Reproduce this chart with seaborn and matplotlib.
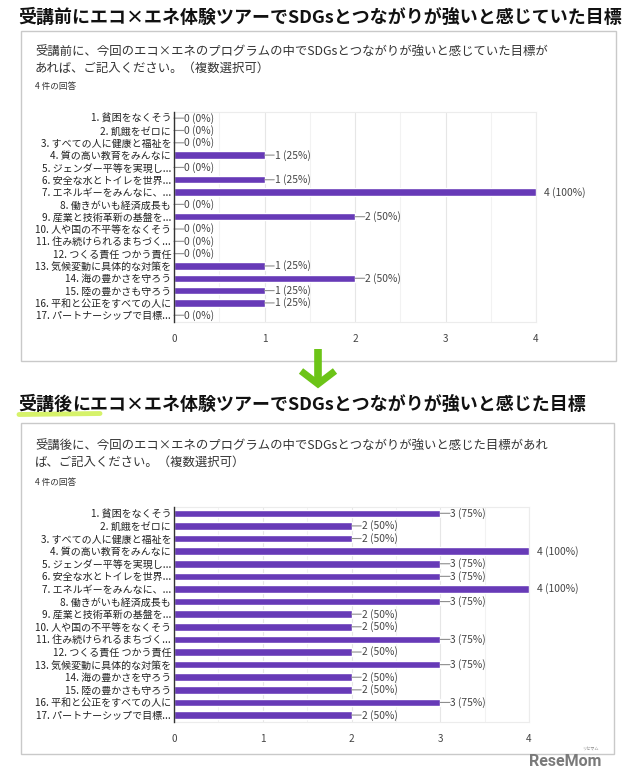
import seaborn as sns
import matplotlib.pyplot as plt
import pandas as pd
from matplotlib.patches import Rectangle
from matplotlib.lines import Line2D

sns.set_style("white")
plt.rcParams['font.family'] = ['Noto Sans CJK JP', 'DejaVu Sans']

# data
goals = [
    "1. 貧困をなくそう", "2. 飢餓をゼロに", "3. すべての人に健康と福祉を",
    "4. 質の高い教育をみんなに", "5. ジェンダー平等を実現し...",
    "6. 安全な水とトイレを世界...", "7. エネルギーをみんなに、...",
    "8. 働きがいも経済成長も", "9. 産業と技術革新の基盤を...",
    "10. 人や国の不平等をなくそう", "11. 住み続けられるまちづく...",
    "12. つくる責任 つかう責任", "13. 気候変動に具体的な対策を",
    "14. 海の豊かさを守ろう", "15. 陸の豊かさも守ろう",
    "16. 平和と公正をすべての人に", "17. パートナーシップで目標...",
]
before = [0, 0, 0, 1, 0, 1, 4, 0, 2, 0, 0, 0, 1, 2, 1, 1, 0]
after = [3, 2, 2, 4, 3, 3, 4, 3, 2, 2, 3, 2, 3, 2, 2, 3, 2]
n_resp = 4

title_before = "受講前にエコ×エネ体験ツアーでSDGsとつながりが強いと感じていた目標"
title_after_hl = "受講後"
title_after_rest = "にエコ×エネ体験ツアーでSDGsとつながりが強いと感じた目標"
q_before = ["受講前に、今回のエコ×エネのプログラムの中でSDGsとつながりが強いと感じていた目標が",
            "あれば、ご記入ください。（複数選択可）"]
q_after = ["受講後に、今回のエコ×エネのプログラムの中でSDGsとつながりが強いと感じた目標があれ",
           "ば、ご記入ください。（複数選択可）"]
resp_text = "4 件の回答"

W, H = 640, 780
BAR = "#673ab7"
GREEN = "#6cc417"


def fx(x):
    return x / W


def fy(y):
    return 1 - y / H


fig = plt.figure(figsize=(W / 100, H / 100), dpi=100)


def card(y0, y1, x1):
    fig.patches.append(Rectangle((fx(21), fy(y1)), fx(x1) - fx(21), fy(y0) - fy(y1),
                                 transform=fig.transFigure, fill=False,
                                 edgecolor="#c9c9c9", linewidth=1.0, zorder=0))


def panel(values, left, right, top, bottom):
    ax = fig.add_axes([fx(left), fy(bottom), fx(right) - fx(left), fy(top) - fy(bottom)])
    df = pd.DataFrame({"goal": goals, "count": values})
    sns.barplot(data=df, x="count", y="goal", color=BAR, width=0.6,
                saturation=1, ax=ax, zorder=3)
    ax.set_xlim(0, 4)
    ax.set_ylim(16.55, -0.5)
    ax.set_xticks([0, 1, 2, 3, 4])
    ax.set_xticks([0.5, 1.5, 2.5, 3.5], minor=True)
    ax.grid(axis="x", which="major", color="#e6e6e6", linewidth=0.8, zorder=0)
    ax.grid(axis="x", which="minor", color="#f2f2f2", linewidth=0.8, zorder=0)
    ax.set_xlabel("")
    ax.set_ylabel("")
    ax.tick_params(axis="both", length=0)
    ax.tick_params(axis="y", labelsize=7.2, labelcolor="#222222", pad=2)
    ax.tick_params(axis="x", labelsize=7.2, labelcolor="#444444", pad=9)
    for s in ["top", "right", "bottom"]:
        ax.spines[s].set_color("#ececec")
        ax.spines[s].set_linewidth(0.8)
    ax.spines["left"].set_color("#333333")
    ax.spines["left"].set_linewidth(1.0)
    ax.spines["left"].set_zorder(5)
    for i, v in enumerate(values):
        lab = f"{v} ({int(v / n_resp * 100)}%)"
        if v >= n_resp:
            ax.annotate(lab, (v, i), xytext=(6, 0), textcoords="offset points",
                        va="center", ha="left", fontsize=7.4, color="#444444",
                        annotation_clip=False)
        else:
            # short leader line from the bar end to the label
            ax.annotate("", xy=(v, i), xytext=(7, 0), textcoords="offset points",
                        arrowprops=dict(arrowstyle="-", color="#8e8e8e", lw=0.8,
                                        shrinkA=0, shrinkB=0))
            ax.annotate(lab, (v, i), xytext=(7.3, 0), textcoords="offset points",
                        va="center", ha="left", fontsize=7.4, color="#444444")
    return ax


# --- top section ---
fig.text(fx(18), fy(18), title_before, fontsize=12.95, weight="bold",
         color="#111111", ha="left", va="center")
card(31, 361, 616)
fig.text(fx(35), fy(51), q_before[0], fontsize=8.9, color="#333333", va="center")
fig.text(fx(35), fy(68), q_before[1], fontsize=8.9, color="#333333", va="center")
fig.text(fx(35), fy(87), resp_text, fontsize=6.2, color="#333333", va="center")
panel(before, 174, 536, 112, 322)

# --- arrow ---
fig.add_artist(Line2D([fx(318), fx(318)], [fy(349), fy(382)], transform=fig.transFigure,
                      color=GREEN, linewidth=5.5, solid_capstyle="butt"))
fig.add_artist(Line2D([fx(301), fx(318), fx(335)], [fy(371), fy(384), fy(371)],
                      transform=fig.transFigure, color=GREEN, linewidth=5,
                      solid_joinstyle="miter", solid_capstyle="butt"))

# --- bottom section ---
fig.add_artist(Line2D([fx(19), fx(100)], [fy(414.5), fy(413.5)], transform=fig.transFigure,
                      color="#d6f26a", linewidth=3.5, solid_capstyle="round", zorder=0))
t = fig.text(fx(18), fy(405), title_after_hl, fontsize=12.95, weight="bold",
             color="#111111", ha="left", va="center")
fig.canvas.draw()
bb = t.get_window_extent()
fig.text(bb.x1 / W, fy(405), title_after_rest, fontsize=12.95, weight="bold",
         color="#111111", ha="left", va="center")
card(423, 754, 614)
fig.text(fx(35), fy(445), q_after[0], fontsize=8.9, color="#333333", va="center")
fig.text(fx(35), fy(462), q_after[1], fontsize=8.9, color="#333333", va="center")
fig.text(fx(35), fy(483), resp_text, fontsize=6.2, color="#333333", va="center")
panel(after, 174, 529, 507, 722)

# watermark
fig.text(fx(601), fy(761), "ReseMom", fontsize=11.5, weight="bold", color="#7a7a7a",
         ha="right", va="center", family=["Roboto", "DejaVu Sans"])
fig.text(fx(590), fy(749), "リセマム", fontsize=3, color="#8a8a8a", ha="center", va="center")

plt.savefig("out.png", dpi=100)
plt.close()
